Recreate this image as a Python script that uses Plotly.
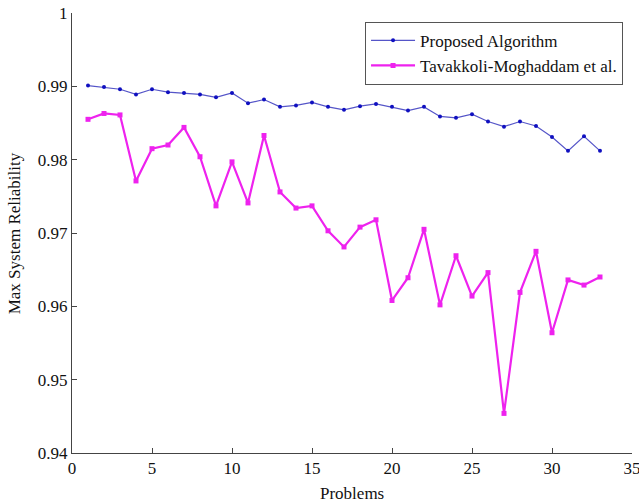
import plotly.graph_objects as go

problems = list(range(1, 34))
proposed = [0.9901, 0.9899, 0.9896, 0.9889, 0.9896, 0.9892, 0.9891, 0.9889, 0.9885, 0.9891,
            0.9877, 0.9882, 0.9872, 0.9874, 0.9878, 0.9872, 0.9868, 0.9873, 0.9876, 0.9872,
            0.9867, 0.9872, 0.9859, 0.9857, 0.9862, 0.9852, 0.9845, 0.9852, 0.9846, 0.9831,
            0.9812, 0.9832, 0.9812]
tavakkoli = [0.9855, 0.9863, 0.9861, 0.9771, 0.9815, 0.9820, 0.9844, 0.9804, 0.9737, 0.9797,
             0.9741, 0.9833, 0.9756, 0.9734, 0.9737, 0.9703, 0.9681, 0.9708, 0.9718, 0.9608,
             0.9639, 0.9705, 0.9602, 0.9669, 0.9614, 0.9646, 0.9454, 0.9619, 0.9675, 0.9564,
             0.9636, 0.9629, 0.9640]
x_ticks = [0, 5, 10, 15, 20, 25, 30, 35]
y_ticks = [0.94, 0.95, 0.96, 0.97, 0.98, 0.99, 1.0]
y_labels = ["0.94", "0.95", "0.96", "0.97", "0.98", "0.99", "1"]

FAM = "Liberation Serif, Times New Roman, serif"
font = dict(family=FAM, size=17, color="#111")

fig = go.Figure()
fig.add_trace(go.Scatter(x=problems, y=proposed, mode="lines+markers",
                         name="Proposed Algorithm",
                         line=dict(color="#5555c8", width=1.2),
                         marker=dict(color="#1010c0", size=4, symbol="circle")))
fig.add_trace(go.Scatter(x=problems, y=tavakkoli, mode="lines+markers",
                         name="Tavakkoli-Moghaddam et al.",
                         line=dict(color="#ee22ee", width=2.2),
                         marker=dict(color="#ee22ee", size=5, symbol="square")))

fig.update_layout(
    width=639, height=503,
    margin=dict(l=72, r=7, t=13, b=50),
    paper_bgcolor="white", plot_bgcolor="white",
    font=font,
    showlegend=True,
    legend=dict(x=0.984, y=0.98, xanchor="right", yanchor="top",
                bgcolor="white", bordercolor="#555", borderwidth=1,
                font=dict(family=FAM, size=17, color="#111"),
                tracegroupgap=0, itemwidth=44),
    annotations=[
        dict(text="Problems", xref="paper", yref="paper", x=0.5, y=-0.091,
             xanchor="center", yanchor="middle", showarrow=False, font=font),
        dict(text="Max System Reliability", xref="paper", yref="paper", x=-0.103, y=0.5,
             xanchor="center", yanchor="middle", showarrow=False, textangle=-90, font=font),
    ],
)
fig.update_xaxes(range=[0, 35], tickvals=x_ticks, ticks="inside", ticklen=5,
                 tickcolor="#444", showline=True, linecolor="#444", linewidth=1,
                 showgrid=False, zeroline=False, mirror=False, automargin=False,
                 tickfont=font, ticklabeloverflow="allow")
fig.update_yaxes(range=[0.94, 1.0], tickvals=y_ticks, ticktext=y_labels, ticks="inside",
                 ticklen=5, tickcolor="#444", showline=True, linecolor="#444", linewidth=1,
                 showgrid=False, zeroline=False, mirror=False, automargin=False,
                 tickfont=font, ticklabeloverflow="allow")

fig.write_html("out.html", config={"displayModeBar": False},
               post_script="document.body.style.margin='0';document.body.style.overflow='hidden';")
